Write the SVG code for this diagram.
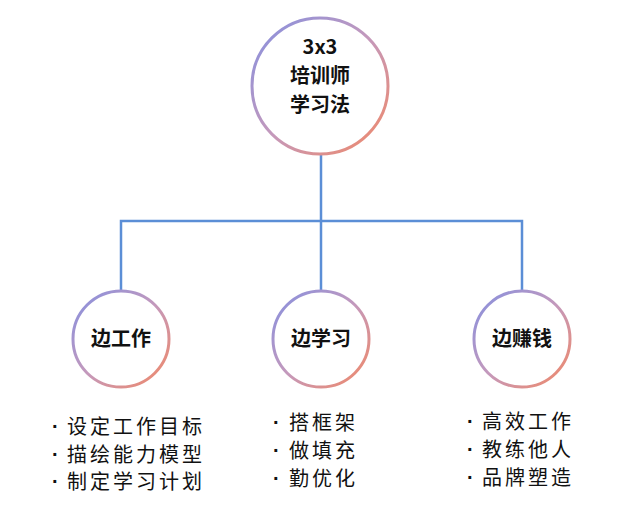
<svg xmlns="http://www.w3.org/2000/svg" width="640" height="520" viewBox="0 0 640 520">
<defs>
<linearGradient id="ring" x1="0" y1="0" x2="1" y2="1">
<stop offset="0" stop-color="#8590e0"/>
<stop offset="0.5" stop-color="#c499bc"/>
<stop offset="1" stop-color="#f28865"/>
</linearGradient>
<style>
.ring{fill:#fff;stroke:url(#ring);stroke-width:3}
.title{font-family:"Noto Sans CJK SC","Noto Sans",sans-serif;font-weight:bold;font-size:20px;fill:#111;text-anchor:middle}
.lbl{font-family:"Noto Sans CJK SC","Noto Sans",sans-serif;font-weight:bold;font-size:20px;fill:#111;text-anchor:middle}
.item{font-family:"Noto Sans CJK SC",serif;font-size:20px;fill:#111;letter-spacing:3px}
.dot{font-family:"Liberation Sans",sans-serif;font-size:20px;font-weight:bold;fill:#111}
.conn{fill:none;stroke:#5b8ed6;stroke-width:2.5}
</style>
</defs>
<rect width="640" height="520" fill="#fff"/>
<g id="connectors">
<path class="conn" d="M321 155 V221"/>
<path class="conn" d="M121 292 V221 H522 V292"/>
<path class="conn" d="M321 221 V292"/>
</g>
<g id="root">
<circle class="ring" cx="320" cy="86" r="68"/>
<text class="title" x="320" y="54">3x3</text>
<text class="title" x="320" y="83">培训师</text>
<text class="title" x="320" y="112">学习法</text>
</g>
<g id="node-work">
<circle class="ring" cx="121" cy="339" r="48"/>
<text class="lbl" x="121" y="346">边工作</text>
</g>
<g id="node-learn">
<circle class="ring" cx="321" cy="339" r="48"/>
<text class="lbl" x="321" y="346">边学习</text>
</g>
<g id="node-earn">
<circle class="ring" cx="522" cy="339" r="48"/>
<text class="lbl" x="522" y="346">边赚钱</text>
</g>
<g id="list-work">
<text class="dot" x="52" y="433">·</text><text class="item" x="67" y="434">设定工作目标</text>
<text class="dot" x="52" y="461">·</text><text class="item" x="67" y="462">描绘能力模型</text>
<text class="dot" x="52" y="488">·</text><text class="item" x="67" y="489">制定学习计划</text>
</g>
<g id="list-learn">
<text class="dot" x="273" y="429">·</text><text class="item" x="289" y="430">搭框架</text>
<text class="dot" x="273" y="457">·</text><text class="item" x="289" y="458">做填充</text>
<text class="dot" x="273" y="485">·</text><text class="item" x="289" y="486">勤优化</text>
</g>
<g id="list-earn">
<text class="dot" x="467" y="428">·</text><text class="item" x="482" y="429">高效工作</text>
<text class="dot" x="467" y="456">·</text><text class="item" x="482" y="457">教练他人</text>
<text class="dot" x="467" y="484">·</text><text class="item" x="482" y="485">品牌塑造</text>
</g>
</svg>
